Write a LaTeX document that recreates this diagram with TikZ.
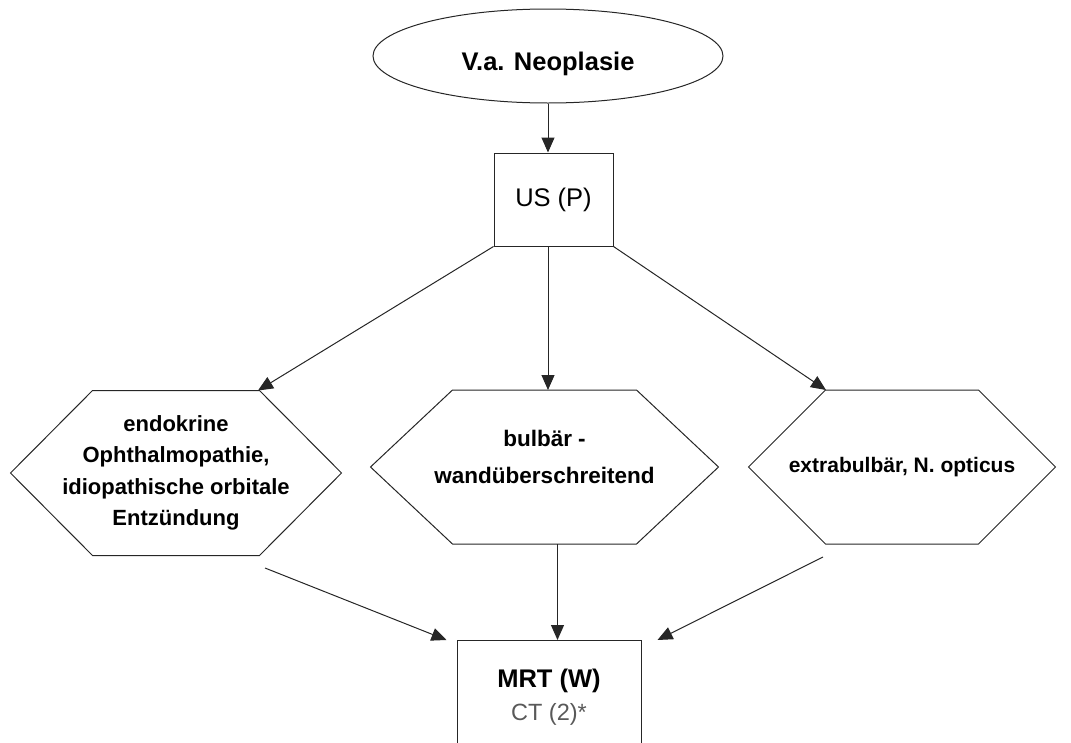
\documentclass[tikz,border=0pt]{standalone}
\usepackage{fontspec}
\setmainfont{Liberation Sans}
\usetikzlibrary{
	shapes.geometric,
	arrows.meta
}

\begin{document}
\begin{tikzpicture}[x=1pt,y=-1pt,
		every edge/.style={draw=black!85,line width=1pt,-{Triangle[length=15pt,width=13pt]}},
		start/.style={ellipse,draw=black!85,line width=1pt,inner sep=0pt,text height=34pt,
			minimum width=350pt,minimum height=94pt,font=\fontsize{25.5}{30}\selectfont\bfseries},
		exam/.style={rectangle,draw=black!85,line width=1pt,inner sep=0pt,align=center},
		finding/.style={rectangle,inner sep=0pt,align=center,font=\fontsize{22}{31.5}\selectfont\bfseries,
			append after command={
				(\tikzlastnode.west) -- ([xshift=#1]\tikzlastnode.north west)
				-- ([xshift=-#1]\tikzlastnode.north east) -- (\tikzlastnode.east)
				-- ([xshift=-#1]\tikzlastnode.south east) -- ([xshift=#1]\tikzlastnode.south west)
				-- cycle}}
	]
		\clip (0,0) rectangle (1071,742);
		\coordinate (l-out) at (265,568);
		\coordinate (r-out) at (823,557);

		\draw [draw=black!85,line width=1pt]
			node [start] (neo) at (548,56) {V.a. Neoplasie}
			node [exam,minimum width=119pt,minimum height=93pt,
				font=\fontsize{25.5}{30}\selectfont] (us) at (553.5,199.5) {US (P)}
			node [finding=82pt,minimum width=330pt,minimum height=164pt]
				(endo) at (176,473) {endokrine\\Ophthalmopathie,\\idiopathische orbitale\\Entzündung}
			node [finding=82pt,minimum width=347pt,minimum height=153pt,
				font=\fontsize{22.5}{37}\selectfont\bfseries,text depth=21pt]
				(bulb) at (544.5,467) {bulbär -\\wandüberschreitend}
			node [finding=77pt,minimum width=306pt,minimum height=153pt,
				font=\fontsize{21}{30}\selectfont\bfseries] (extra) at (902,467) {extrabulbär, N. opticus}
			node [exam,anchor=north,minimum width=184pt,inner ysep=29pt,
				font=\fontsize{25.5}{33}\selectfont] (mrt) at (549,640)
				{\bfseries MRT (W)\\{\color{black!65}\fontsize{23.5}{33}\selectfont CT (2)*}}
		;
		\coordinate (m-out) at ([xshift=13pt]bulb.south);

		\draw
			(neo.south) edge (neo.south |- us.north)
			(us.south west) edge ([xshift=82pt]endo.north)
			(neo.south |- us.south) edge (neo.south |- bulb.north)
			(us.south east) edge ([xshift=-76pt]extra.north)
			(l-out) edge ([xshift=-10pt]mrt.north west)
			(m-out) edge (m-out |- mrt.north)
			(r-out) edge ([xshift=16pt]mrt.north east)
		;
\end{tikzpicture}
\end{document}
